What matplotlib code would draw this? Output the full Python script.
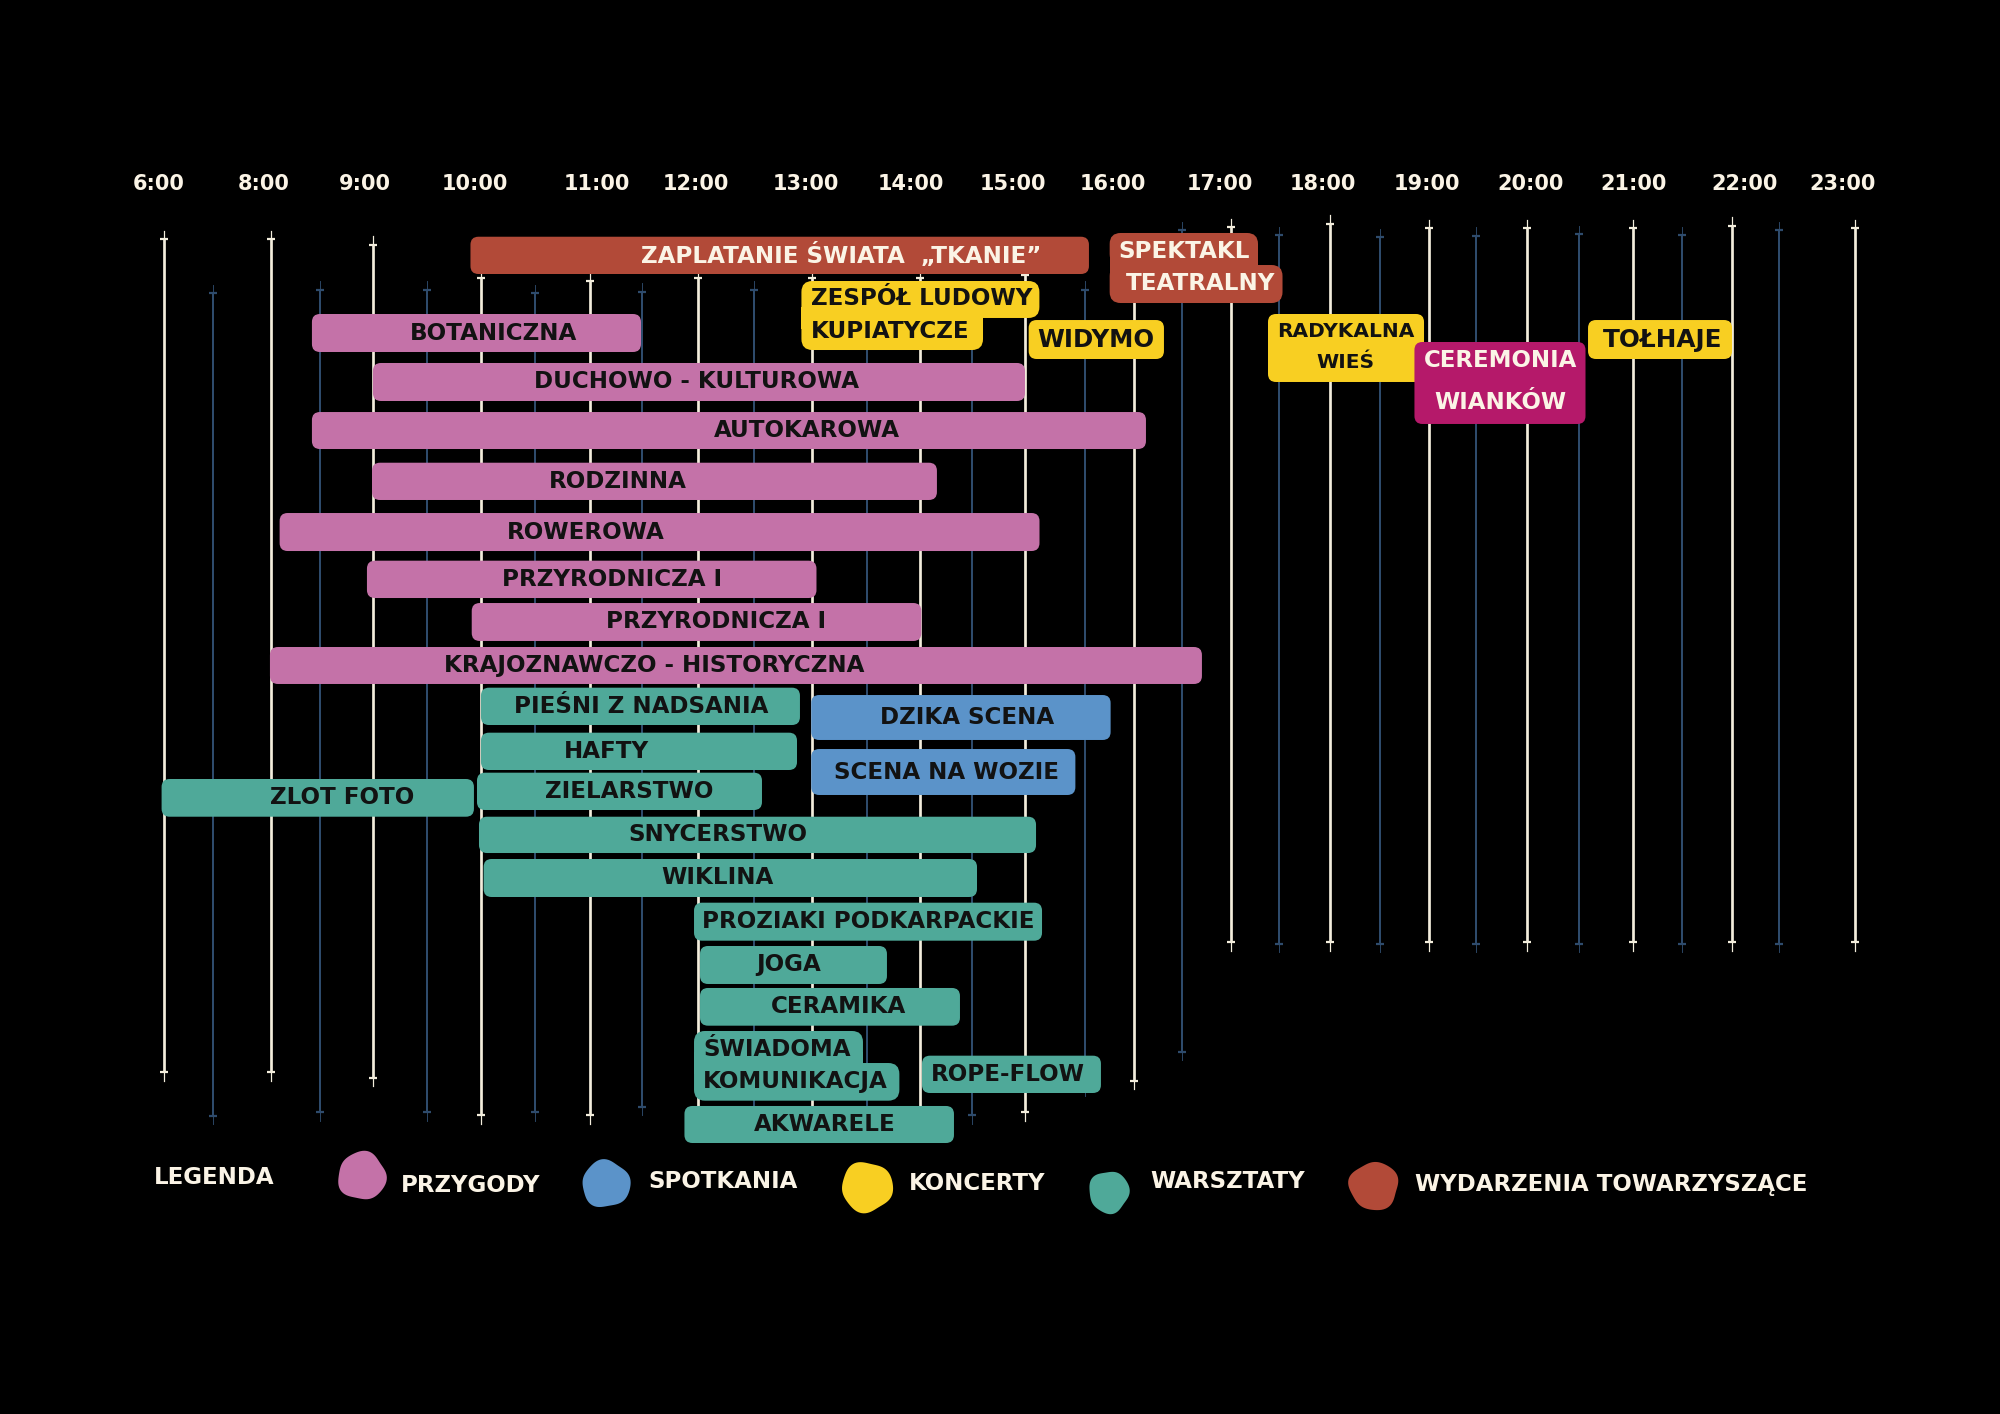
import matplotlib
matplotlib.use("Agg")
import matplotlib.pyplot as plt
from matplotlib.patches import FancyBboxPatch, Rectangle, Polygon
import numpy as np

# ---------------- DATA ----------------
tick_labels = ["6:00", "8:00", "9:00", "10:00", "11:00", "12:00", "13:00", "14:00",
               "15:00", "16:00", "17:00", "18:00", "19:00", "20:00", "21:00", "22:00", "23:00"]
tick_pos = [0.00, 1.00, 1.96, 3.00, 4.16, 5.10, 6.15, 7.15, 8.12, 9.07,
            10.08, 11.06, 12.05, 13.04, 14.02, 15.07, 16.00]

# full-hour grid lines (white): column position, top row, bottom row
hour_x = [0.046, 1.065, 2.034, 3.065, 4.101, 5.120, 6.204, 7.234, 8.236, 9.268,
          10.190, 11.128, 12.072, 13.008, 14.009, 14.953, 16.118]
hour_top = [-1.934, -1.934, -1.811, -1.132, -1.070, -1.132, -1.132, -1.132, -1.193, -0.679,
            -2.181, -2.243, -2.160, -2.160, -2.160, -2.202, -2.160]
hour_bot = [15.206, 15.206, 15.329, 16.091, 16.091, 15.988, 15.988, 15.988, 16.029, 15.391,
            12.531, 12.531, 12.531, 12.531, 12.531, 12.531, 12.531]

# half-hour grid lines (blue)
half_x = [0.518, 1.530, 2.548, 3.574, 4.591, 5.653, 6.726, 7.732, 8.802, 9.728,
          10.644, 11.602, 12.523, 13.498, 14.481, 15.399]
half_top = [-0.823, -0.885, -0.885, -0.823, -0.844, -0.885, -0.885, -0.885, -0.885, -2.119,
            -2.016, -1.975, -1.996, -2.037, -2.016, -2.119]
half_bot = [16.111, 16.029, 16.029, 16.029, 15.926, 16.029, 16.029, 16.091, 15.535, 14.794,
            12.572, 12.572, 12.572, 12.572, 12.572, 12.572]

legend_title = "LEGENDA"
categories = ["PRZYGODY", "SPOTKANIA", "KONCERTY", "WARSZTATY", "WYDARZENIA TOWARZYSZĄCE"]

# single-block events
ev_name = ["ZAPLATANIE ŚWIATA  „TKANIE”", "WIDYMO", "BOTANICZNA", "DUCHOWO - KULTUROWA",
           "AUTOKAROWA", "RODZINNA", "ROWEROWA", "PRZYRODNICZA I", "PRZYRODNICZA I",
           "KRAJOZNAWCZO - HISTORYCZNA", "PIEŚNI Z NADSANIA", "DZIKA SCENA", "HAFTY",
           "SCENA NA WOZIE", "ZIELARSTWO", "ZLOT FOTO", "SNYCERSTWO", "WIKLINA",
           "PROZIAKI PODKARPACKIE", "JOGA", "CERAMIKA", "ROPE-FLOW", "AKWARELE",
           "RADYKALNA\nWIEŚ", "CEREMONIA\nWIANKÓW", "TOŁHAJE"]
ev_cat = ["WYDARZENIA TOWARZYSZĄCE", "KONCERTY", "PRZYGODY", "PRZYGODY",
          "PRZYGODY", "PRZYGODY", "PRZYGODY", "PRZYGODY", "PRZYGODY",
          "PRZYGODY", "WARSZTATY", "SPOTKANIA", "WARSZTATY",
          "SPOTKANIA", "WARSZTATY", "WARSZTATY", "WARSZTATY", "WARSZTATY",
          "WARSZTATY", "WARSZTATY", "WARSZTATY", "WARSZTATY", "WARSZTATY",
          "KONCERTY", "CEREMONIA", "KONCERTY"]
ev_start = [2.961, 8.267, 1.454, 2.034, 1.454, 2.025, 1.147, 1.977, 2.973, 1.055,
            3.061, 6.200, 3.061, 6.200, 3.023, 0.025, 3.042, 3.086, 5.086, 5.143,
            5.143, 7.253, 4.995, 10.542, 11.934, 13.584]
ev_end = [8.840, 9.553, 4.582, 8.232, 9.382, 7.395, 8.370, 6.250, 7.247, 9.914,
          6.093, 9.046, 6.065, 8.711, 5.732, 2.994, 8.337, 7.776, 8.394, 6.920,
          7.614, 8.954, 7.557, 12.025, 13.560, 14.953]
ev_top = [-1.981, -0.267, -0.391, 0.617, 1.626, 2.669, 3.704, 4.685, 5.556, 6.461,
          7.298, 7.449, 8.224, 8.560, 9.047, 9.177, 9.953, 10.823, 11.722, 12.613,
          13.477, 14.870, 15.905, -0.391, 0.185, -0.267]
ev_bot = [-1.214, 0.535, 0.391, 1.399, 2.387, 3.436, 4.486, 5.453, 6.337, 7.222,
          8.066, 8.374, 8.992, 9.506, 9.815, 9.953, 10.700, 11.605, 12.504, 13.395,
          14.253, 15.638, 16.667, 1.008, 1.872, 0.535]

# two-block events (stepped shapes)
sp_name = [["ZESPÓŁ LUDOWY", "KUPIATYCZE"], ["SPEKTAKL", "TEATRALNY"], ["ŚWIADOMA", "KOMUNIKACJA"]]
sp_cat = ["KONCERTY", "WYDARZENIA TOWARZYSZĄCE", "WARSZTATY"]
sp_start = [6.107, 9.037, 5.086]
sp_end_upper = [8.369, 10.447, 6.692]
sp_end_lower = [7.833, 10.680, 7.038]
sp_top = [-1.070, -2.058, 14.362]
sp_mid = [-0.309, -1.399, 15.021]
sp_bot = [0.350, -0.617, 15.796]

# ---------------- LAYOUT / STYLE ----------------
colors = {
    "PRZYGODY": "#C472A8",
    "SPOTKANIA": "#5B93C9",
    "KONCERTY": "#F8CF22",
    "WARSZTATY": "#4FA999",
    "WYDARZENIA TOWARZYSZĄCE": "#B24A38",
    "CEREMONIA": "#B5196A",
}
light_text_cats = {"WYDARZENIA TOWARZYSZĄCE", "CEREMONIA"}
DARK = "#121212"
CREAM = "#FBF4E6"
WHITE_LINE = "#F3EDDC"
BLUE_LINE = "#2E4B6C"

# label anchor (x) for single events; some multi-line rows
ev_label_x = [6.483, 8.907, 3.180, 5.105, 6.160, 4.363, 4.059, 4.306, 5.295, 4.703,
              4.582, 7.686, 4.249, 7.490, 4.473, 1.740, 5.309, 5.309, 6.740, 5.989,
              6.456, 8.070, 6.331, 11.283, 12.753, 14.297]
BAR_FS = 16.6
ev_font = [BAR_FS] * len(ev_name)
ev_font[1] = 17.6    # WIDYMO
ev_font[23] = 14.5   # RADYKALNA
ev_font[24] = 16.5   # CEREMONIA
ev_font[25] = 17.8   # TOŁHAJE
multi_rows = {23: [-0.041, 0.617], 24: [0.556, 1.440]}

sp_label_x = [[6.198, 6.198], [9.122, 9.188], [5.171, 5.171]]
sp_label_rows = [[-0.700, -0.041], [-1.673, -1.023], [14.733, 15.405]]

FONT = ["DejaVu Sans"]
plt.rcParams["font.family"] = FONT

W, H = 2000, 1414
fig = plt.figure(figsize=(W / 100, H / 100), dpi=100, facecolor="black")
ax = fig.add_axes([0, 0, 1, 1])
ax.set_facecolor("black")
ax.set_xlim(-1.511, 17.500)
ax.set_ylim(22.243, -6.852)
ax.axis("off")

px_x = 105.2   # pixels per column
px_y = 48.6    # pixels per row
R = 8.0
rx = R / px_x
ry = R / px_y
aspect = px_x / px_y
tip = 8.5 / px_y


def rbox(x0, x1, y0, y1, color, z=3, r=rx):
    p = FancyBboxPatch((x0, y0), x1 - x0, y1 - y0,
                       boxstyle=f"round,pad=0,rounding_size={r}",
                       mutation_aspect=aspect, fc=color, ec="none", zorder=z)
    ax.add_patch(p)


def gridline(x, top, bot, color, lw):
    ax.plot([x, x], [top, bot], color=color, lw=lw, solid_capstyle="butt", zorder=1)
    ax.plot([x, x], [top - tip, top], color=color, lw=lw * 0.45, zorder=1)
    ax.plot([x, x], [bot, bot + tip], color=color, lw=lw * 0.45, zorder=1)
    ax.plot([x, x], [top, bot], ls="none", marker="_", ms=5.5, mew=1.6, color=color, zorder=1)


for x, t, b in zip(half_x, half_top, half_bot):
    gridline(x, t, b, BLUE_LINE, 1.45)
for x, t, b in zip(hour_x, hour_top, hour_bot):
    gridline(x, t, b, WHITE_LINE, 1.95)

# hour labels
for p, lab in zip(tick_pos, tick_labels):
    ax.text(p, -3.07, lab, ha="center", va="center", color=CREAM,
            fontsize=15, fontweight="bold", zorder=5)

# single events
for i, name in enumerate(ev_name):
    c = ev_cat[i]
    rbox(ev_start[i], ev_end[i], ev_top[i], ev_bot[i], colors[c])
    tc = CREAM if c in light_text_cats else DARK
    if i in multi_rows:
        for line, r in zip(name.split("\n"), multi_rows[i]):
            ax.text(ev_label_x[i], r, line, ha="center", va="center", color=tc,
                    fontsize=ev_font[i], fontweight="bold", zorder=4)
    else:
        ax.text(ev_label_x[i], (ev_top[i] + ev_bot[i]) / 2, name, ha="center", va="center",
                color=tc, fontsize=ev_font[i], fontweight="bold", zorder=4)

# stepped events
for i in range(len(sp_name)):
    c = colors[sp_cat[i]]
    rr = 11.0 / px_x
    rbox(sp_start[i], sp_end_upper[i], sp_top[i], sp_mid[i], c, r=rr)
    rbox(sp_start[i], sp_end_lower[i], sp_mid[i], sp_bot[i], c, r=rr)
    ryy = 11.0 / px_y
    ax.add_patch(Rectangle((sp_start[i], sp_mid[i] - ryy),
                           min(sp_end_upper[i], sp_end_lower[i]) - sp_start[i], 2 * ryy,
                           fc=c, ec="none", zorder=3))
    tc = CREAM if sp_cat[i] in light_text_cats else DARK
    for line, lx, r in zip(sp_name[i], sp_label_x[i], sp_label_rows[i]):
        ax.text(lx, r, line, ha="left", va="center", color=tc,
                fontsize=BAR_FS, fontweight="bold", zorder=4)

# legend (figure coordinates)
fig.text(154 / W, 1 - 1178 / H, legend_title, ha="left", va="center",
         color=CREAM, fontsize=16.5, fontweight="bold")
blob_c = [(362, 1176), (606, 1184), (867, 1187), (1109, 1192), (1374, 1186)]
blob_s = [(48, 48), (48, 47), (51, 50), (40, 42), (49, 48)]
text_pos = [(401, 1185), (648, 1182), (909, 1183), (1150, 1182), (1415, 1185)]
theta = np.linspace(0, 2 * np.pi, 90)
for k, cat in enumerate(categories):
    cx, cy = blob_c[k]
    bw, bh = blob_s[k]
    wob = 1 + 0.045 * np.sin(3 * theta + k) + 0.03 * np.cos(5 * theta + 2 * k)
    xs = (cx + 0.5 * bw * wob * np.cos(theta)) / W
    ys = 1 - (cy + 0.5 * bh * wob * np.sin(theta)) / H
    fig.add_artist(Polygon(np.column_stack([xs, ys]), closed=True, fc=colors[cat], ec="none",
                           transform=fig.transFigure))
    tx, ty = text_pos[k]
    fig.text(tx / W, 1 - ty / H, cat, ha="left", va="center", color=CREAM,
             fontsize=16.5, fontweight="bold")

fig.savefig("out.png", dpi=100, facecolor="black")
